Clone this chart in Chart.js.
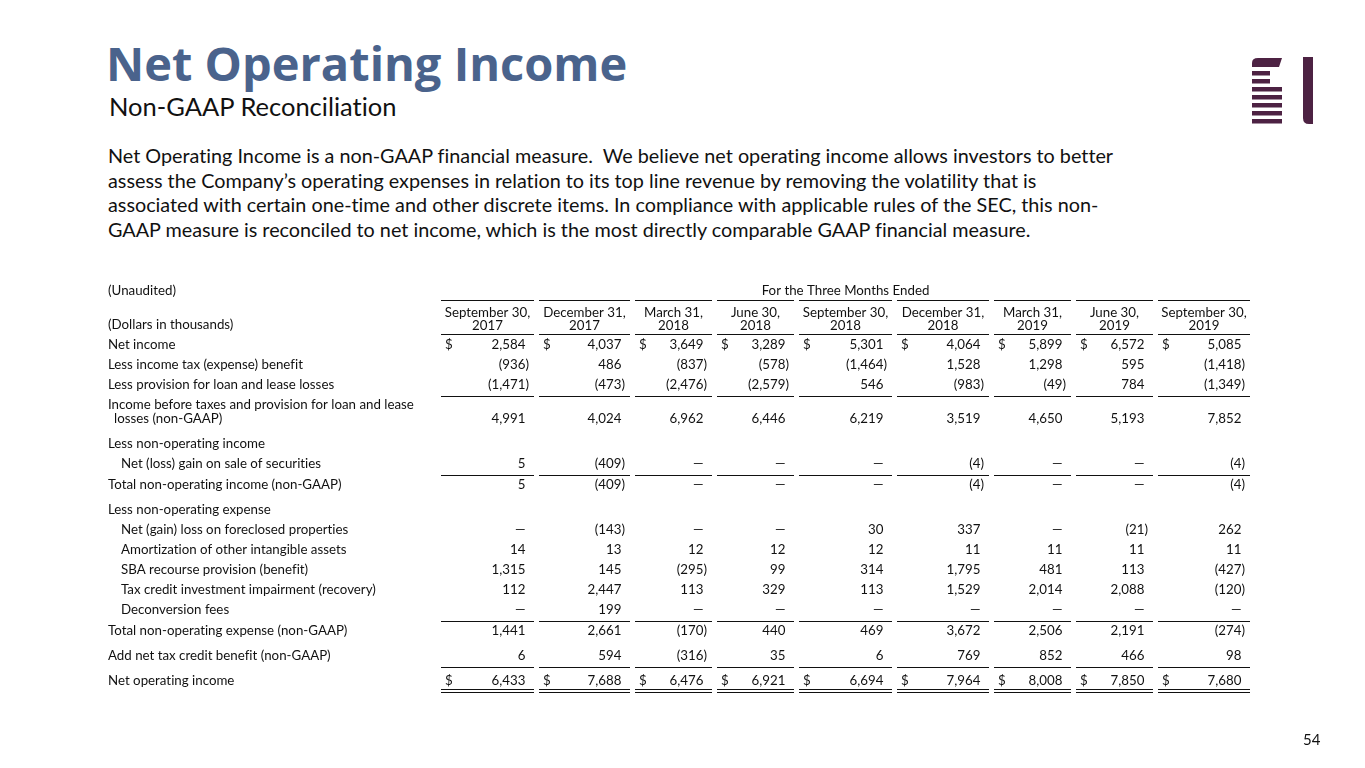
<!DOCTYPE html>
<html>
<head>
<meta charset="utf-8">
<title>Net Operating Income</title>
<script src="https://cdn.jsdelivr.net/npm/chart.js@4.4.0/dist/chart.umd.min.js"></script>
<style>
  html, body { margin: 0; padding: 0; background: #fff; }
  body { width: 1365px; height: 768px; position: relative; overflow: hidden; font-family: Lato, sans-serif; color: #111; font-variant-ligatures: none; }
  #title { position: absolute; left: 106px; top: 40px; margin: 0; font-family: 'Open Sans', sans-serif; font-weight: 700; font-size: 47px; line-height: 1; color: #4a638c; }
  #subtitle { position: absolute; left: 109px; top: 94px; margin: 0; font-size: 25.5px; line-height: 1; font-weight: 400; }
  #intro { position: absolute; left: 108px; top: 143px; margin: 0; font-size: 19.8px; line-height: 24.5px; white-space: pre; }
  #page { position: absolute; left: 1303px; top: 732px; font-size: 15px; line-height: 1; }
  #logo { position: absolute; left: 1250px; top: 55px; }
  #table { position: absolute; left: 0; top: 0; }
</style>
</head>
<body>
<h1 id="title">Net Operating Income</h1>
<h2 id="subtitle">Non-GAAP Reconciliation</h2>
<p id="intro">Net Operating Income is a non-GAAP financial measure.  We believe net operating income allows investors to better
assess the Company’s operating expenses in relation to its top line revenue by removing the volatility that is
associated with certain one-time and other discrete items. In compliance with applicable rules of the SEC, this non-
GAAP measure is reconciled to net income, which is the most directly comparable GAAP financial measure.</p>
<svg id="logo" width="70" height="72" viewBox="0 0 70 72">
  <g fill="#4d2243">
    <path d="M2,12 L2,8 Q2,3 8,3 L32,3 L29,12 Z"/>
    <rect x="2" y="16" width="18" height="4.5"/>
    <rect x="2" y="24" width="18" height="4.5"/>
    <rect x="2" y="32" width="30" height="4.5"/>
    <rect x="2" y="40" width="30" height="4.5"/>
    <rect x="2" y="48" width="30" height="4.5"/>
    <rect x="2" y="56" width="30" height="4.5"/>
    <rect x="2" y="64" width="30" height="4.5"/>
    <path d="M53,2 L63,2 L63,69 L59,69 Q53,69 53,63 Z"/>
  </g>
</svg>
<canvas id="table" width="1365" height="768"></canvas>
<div id="page">54</div>

<script>
// ---- data ----
const periodMonths = ['September 30,', 'December 31,', 'March 31,', 'June 30,', 'September 30,', 'December 31,', 'March 31,', 'June 30,', 'September 30,'];
const periodYears = ['2017', '2017', '2018', '2018', '2018', '2018', '2019', '2019', '2019'];

const rowLabels = [
  'Net income',
  'Less income tax (expense) benefit',
  'Less provision for loan and lease losses',
  ['Income before taxes and provision for loan and lease', 'losses (non-GAAP)'],
  'Less non-operating income',
  'Net (loss) gain on sale of securities',
  'Total non-operating income (non-GAAP)',
  'Less non-operating expense',
  'Net (gain) loss on foreclosed properties',
  'Amortization of other intangible assets',
  'SBA recourse provision (benefit)',
  'Tax credit investment impairment (recovery)',
  'Deconversion fees',
  'Total non-operating expense (non-GAAP)',
  'Add net tax credit benefit (non-GAAP)',
  'Net operating income'
];

// null = shown as a dash
const netIncome = [2584, 4037, 3649, 3289, 5301, 4064, 5899, 6572, 5085];
const incomeTax = [-936, 486, -837, -578, -1464, 1528, 1298, 595, -1418];
const loanLossProvision = [-1471, -473, -2476, -2579, 546, -983, -49, 784, -1349];
const incomeBeforeTaxes = [4991, 4024, 6962, 6446, 6219, 3519, 4650, 5193, 7852];
const securitiesGain = [5, -409, null, null, null, -4, null, null, -4];
const totalNonOpIncome = [5, -409, null, null, null, -4, null, null, -4];
const foreclosedProperties = [null, -143, null, null, 30, 337, null, -21, 262];
const amortization = [14, 13, 12, 12, 12, 11, 11, 11, 11];
const sbaRecourse = [1315, 145, -295, 99, 314, 1795, 481, 113, -427];
const taxCreditImpairment = [112, 2447, 113, 329, 113, 1529, 2014, 2088, -120];
const deconversionFees = [null, 199, null, null, null, null, null, null, null];
const totalNonOpExpense = [1441, 2661, -170, 440, 469, 3672, 2506, 2191, -274];
const netTaxCreditBenefit = [6, 594, -316, 35, 6, 769, 852, 466, 98];
const netOperatingIncome = [6433, 7688, 6476, 6921, 6694, 7964, 8008, 7850, 7680];

const rowSeries = [
  netIncome, incomeTax, loanLossProvision, incomeBeforeTaxes,
  null, securitiesGain, totalNonOpIncome,
  null, foreclosedProperties, amortization, sbaRecourse, taxCreditImpairment, deconversionFees,
  totalNonOpExpense, netTaxCreditBenefit, netOperatingIncome
];

// ---- layout ----
const colWidths = [93, 91, 77, 77, 93, 92, 77, 77, 92];
const colGap = 5;
const colLeft = [];
const colRight = [];
colWidths.forEach((w, i) => {
  const left = i === 0 ? 0 : colRight[i - 1] + colGap;
  colLeft.push(left);
  colRight.push(left + w);
});
const tableWidth = colRight[colRight.length - 1];

// vertical step before each row (px), first row measured from table top
const rowSteps = [64, 20, 20, 34, 25, 20, 21, 25, 20, 20, 20, 20, 20, 21, 25, 25];
const rowY = [];
rowSteps.forEach((s, i) => rowY.push((i ? rowY[i - 1] : 0) + s));

const indented = [5, 8, 9, 10, 11, 12];
const dollarRows = [0, 15];
const ruleBelow = [2, 5, 12, 14];
const doubleRuleBelow = [15];

const FONT = '13.3px Lato';
const INK = '#111';
const TEXT_DY = 1; // Lato sits a little high with 'middle'

const fmt = v => Math.abs(v).toLocaleString('en-US');

const tablePlugin = {
  id: 'tablePlugin',
  afterDatasetsDraw(chart) {
    const ctx = chart.ctx;
    const xs = chart.scales.x, ys = chart.scales.y;
    const labelX = 108;
    ctx.save();
    ctx.font = FONT;
    ctx.fillStyle = INK;
    ctx.strokeStyle = INK;
    ctx.lineWidth = 1;
    ctx.textBaseline = 'middle';
    const parenW = ctx.measureText(')').width;
    const text = (s, x, y) => ctx.fillText(s, x, y + TEXT_DY);

    const hline = (c, yv) => {
      const py = Math.round(ys.getPixelForValue(yv)) + 0.5;
      ctx.beginPath();
      ctx.moveTo(xs.getPixelForValue(colLeft[c]), py);
      ctx.lineTo(xs.getPixelForValue(colRight[c]), py);
      ctx.stroke();
    };

    // header
    ctx.textAlign = 'left';
    text('(Unaudited)', labelX, ys.getPixelForValue(10));
    text('(Dollars in thousands)', labelX, ys.getPixelForValue(44));
    ctx.textAlign = 'center';
    text('For the Three Months Ended', xs.getPixelForValue(tableWidth / 2), ys.getPixelForValue(10));
    periodMonths.forEach((m, c) => {
      const cx = xs.getPixelForValue((colLeft[c] + colRight[c]) / 2);
      text(m, cx, ys.getPixelForValue(31.5));
      text(periodYears[c], cx, ys.getPixelForValue(44.5));
      hline(c, 20);
      hline(c, 54);
    });

    // row labels and rules
    rowLabels.forEach((label, r) => {
      const py = ys.getPixelForValue(rowY[r]);
      const indent = indented.includes(r) ? 13 : 0;
      ctx.textAlign = 'left';
      if (Array.isArray(label)) {
        text(label[0], labelX, py - 14);
        text(label[1], labelX + 6, py);
      } else {
        text(label, labelX + indent, py);
      }
      colWidths.forEach((w, c) => {
        if (ruleBelow.includes(r)) hline(c, rowY[r] + 11.5);
        if (doubleRuleBelow.includes(r)) {
          hline(c, rowY[r] + 9);
          hline(c, rowY[r] + 12);
        }
      });
    });

    // cell values, placed by the dataset points
    chart.data.datasets.forEach((ds, di) => {
      const meta = chart.getDatasetMeta(di);
      meta.data.forEach((pt, c) => {
        const v = ds.values[c];
        const right = pt.x - 5;
        ctx.textAlign = 'right';
        if (v === null) text('—', right - parenW, pt.y);
        else if (v < 0) text('(' + fmt(v) + ')', right, pt.y);
        else text(fmt(v), right - parenW, pt.y);
        if (ds.dollar) {
          ctx.textAlign = 'left';
          text('$', xs.getPixelForValue(colLeft[c]) + 4, pt.y);
        }
      });
    });
    ctx.restore();
  }
};

const datasets = [];
rowSeries.forEach((values, r) => {
  if (!values) return;
  datasets.push({
    label: Array.isArray(rowLabels[r]) ? rowLabels[r].join(' ') : rowLabels[r],
    values: values,
    dollar: dollarRows.includes(r),
    data: values.map((v, c) => ({ x: colRight[c], y: rowY[r] })),
    pointRadius: 0,
    pointHoverRadius: 0
  });
});

document.fonts.load(FONT).then(() => {
  new Chart(document.getElementById('table'), {
    type: 'scatter',
    data: { datasets: datasets },
    options: {
      responsive: false,
      animation: false,
      events: [],
      layout: { padding: { left: 441, right: 1365 - 441 - tableWidth, top: 280, bottom: 68 } },
      plugins: { legend: { display: false }, tooltip: { enabled: false } },
      scales: {
        x: { type: 'linear', display: false, min: 0, max: tableWidth },
        y: { type: 'linear', display: false, min: 0, max: 420, reverse: true }
      }
    },
    plugins: [tablePlugin]
  });
});
</script>
</body>
</html>
